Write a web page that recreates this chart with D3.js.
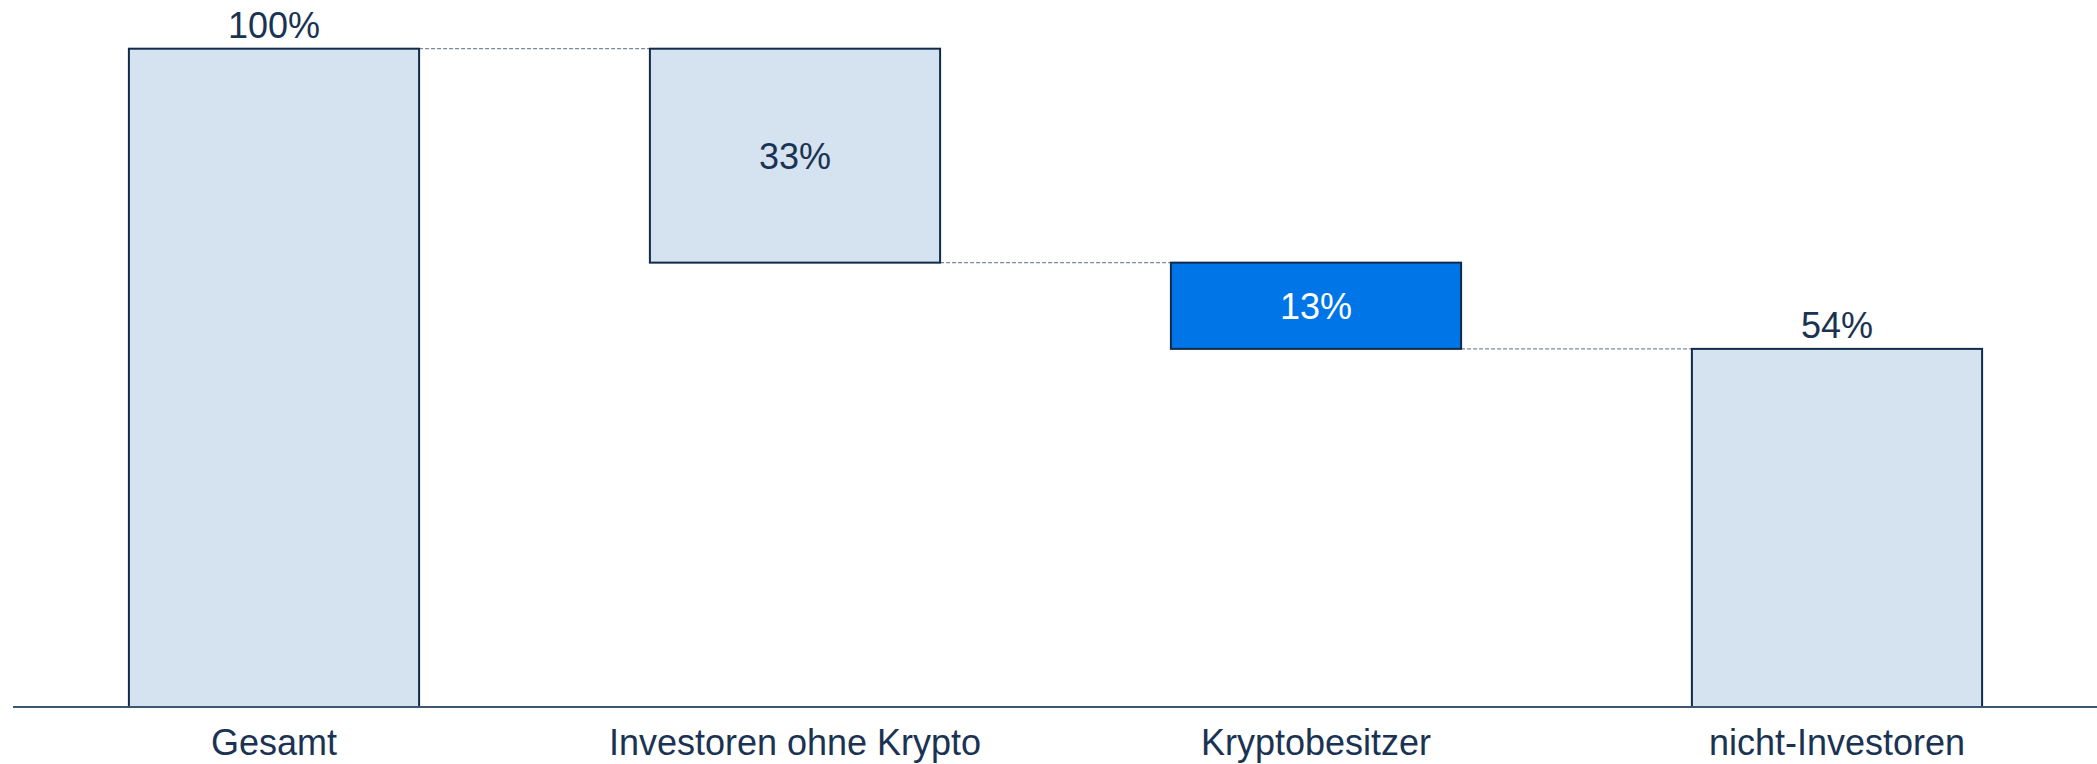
<!DOCTYPE html>
<html>
<head>
<meta charset="utf-8">
<script src="https://cdn.jsdelivr.net/npm/d3@7"></script>
<style>
	html, body { margin: 0; padding: 0; background: #fff; }
	svg { display: block; font-family: "Liberation Sans", Arial, sans-serif; }
</style>
</head>
<body>
<div id="chart"></div>
<script>
const categories = ["Gesamt", "Investoren ohne Krypto", "Kryptobesitzer", "nicht-Investoren"];
const values = [100, -32.5, -13.1, 54.4];
const kinds = ["total", "step", "step", "total"];
const valueLabels = ["100%", "33%", "13%", "54%"];
const highlight = [false, false, true, false];

const
	width = 2097,
	height = 764,
	baseline = 707,
	topY = 48.7;

// running start/end for each bar
let running = 0;
const bars = categories.map((cat, i) => {
	let start, end;
	if (kinds[i] === "total") {
		start = 0;
		end = values[i];
	} else {
		start = running;
		end = running + values[i];
	}
	running = end;
	return { cat, start, end, label: valueLabels[i], kind: kinds[i], hi: highlight[i] };
});

const svg = d3.select("#chart")
	.append("svg")
	.attr("width", width)
	.attr("height", height);

const x = d3.scaleBand()
	.domain(categories)
	.range([13.5, width + 0.5])
	.paddingInner(0.443)
	.paddingOuter(0.2215);

const y = d3.scaleLinear()
	.domain([0, 100])
	.range([baseline, topY]);

// connectors
bars.forEach((b, i) => {
	if (i === bars.length - 1) return;
	svg.append("line")
		.attr("x1", x(b.cat) + x.bandwidth())
		.attr("x2", x(bars[i + 1].cat))
		.attr("y1", y(b.end))
		.attr("y2", y(b.end))
		.attr("stroke", "#7b8a9b")
		.attr("stroke-width", 1.3)
		.attr("stroke-dasharray", "4,2");
});

svg.selectAll("rect.bar")
	.data(bars)
	.enter()
	.append("rect")
	.attr("class", "bar")
	.attr("x", d => x(d.cat))
	.attr("width", x.bandwidth())
	.attr("y", d => y(Math.max(d.start, d.end)))
	.attr("height", d => Math.abs(y(d.start) - y(d.end)))
	.attr("fill", d => d.hi ? "#0075e8" : "#d5e2ef")
	.attr("stroke", "#112b4a")
	.attr("stroke-width", 2);

// value labels
svg.selectAll("text.val")
	.data(bars)
	.enter()
	.append("text")
	.attr("class", "val")
	.attr("x", d => x(d.cat) + x.bandwidth() / 2)
	.attr("y", d => d.kind === "total"
		? y(d.end) - 11
		: (y(d.start) + y(d.end)) / 2 + 13)
	.attr("text-anchor", "middle")
	.style("font-size", "36px")
	.attr("fill", d => d.hi ? "#ffffff" : "#1b3353")
	.text(d => d.label);

// x axis
const xAxis = svg.append("g")
	.attr("transform", `translate(0, ${baseline})`)
	.call(d3.axisBottom(x).tickSize(0).tickPadding(0));

xAxis.select(".domain")
	.attr("d", `M13,0H${width}`)
	.attr("stroke", "#3d5672")
	.attr("stroke-width", 2);

xAxis.selectAll("text")
	.attr("y", 48)
	.attr("dy", 0)
	.style("font-size", "36px")
	.style("font-family", "\"Liberation Sans\", Arial, sans-serif")
	.attr("fill", "#1b3353");
</script>
</body>
</html>
